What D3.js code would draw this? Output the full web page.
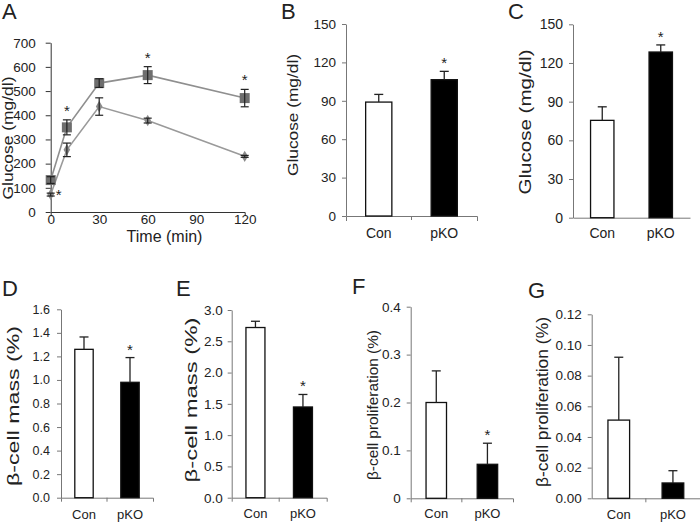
<!DOCTYPE html>
<meta charset="utf-8">
<head>
    <title>Glucose and beta-cell panels</title>
</head>
<style>
body { margin: 0; background: #fff; }
svg { display: block; }
text { font-family: 'Liberation Sans', Arial, sans-serif; fill: #222; }
.axis path, .axis line { stroke: #777; }
.axisA path, .axisA line { stroke: #333; }
.axis text, .axisA text { fill: #222; }
</style>
<body>
<svg width="700" height="525"></svg>
<script src="https://d3js.org/d3.v7.min.js"></script>
<script>

// panel A: glucose tolerance curve
const times = [0, 10, 30, 60, 120];
const pkoCurve = [132, 350, 533, 566, 471];
const pkoCurveErr = [14, 31, 18, 35, 36];
const conCurve = [72, 257, 436, 378, 230];
const conCurveErr = [6, 28, 36, 10, 4];
const curveTicksY = [0, 100, 200, 300, 400, 500, 600, 700];
const curveTicksX = [0, 30, 60, 90, 120];

// bar panels B-G
const groups = ['Con', 'pKO'];
const glucoseB = [89, 106.5];
const glucoseBErr = [6, 6.5];
const glucoseC = [75.5, 128.5];
const glucoseCErr = [10.5, 5.5];
const massD = [1.26, 0.98];
const massDErr = [0.105, 0.21];
const massE = [2.72, 1.45];
const massEErr = [0.10, 0.20];
const prolifF = [0.200, 0.071];
const prolifFErr = [0.066, 0.044];
const prolifG = [0.051, 0.010];
const prolifGErr = [0.041, 0.008];
const sigB = [false, true], sigC = [false, true], sigD = [false, true];
const sigE = [false, true], sigF = [false, true], sigG = [false, false];
const ticksGlucose = [0, 30, 60, 90, 120, 150];
const ticksD = [0, 0.2, 0.4, 0.6, 0.8, 1.0, 1.2, 1.4, 1.6];
const ticksE = [0, 0.5, 1.0, 1.5, 2.0, 2.5, 3.0];
const ticksF = [0, 0.1, 0.2, 0.3, 0.4];
const ticksG = [0, 0.02, 0.04, 0.06, 0.08, 0.10, 0.12];

const svg = d3.select('svg');

function panelLetter(t, x, y) {
    svg.append('text')
        .attr('x', x).attr('y', y)
        .style('font-size', '22px')
        .text(t);
}

function yLabel(t, cx, cy, len, size) {
    svg.append('text')
        .attr('transform', `translate(${cx},${cy}) rotate(-90)`)
        .attr('text-anchor', 'middle')
        .attr('dy', '0.35em')
        .attr('textLength', len)
        .attr('lengthAdjust', 'spacingAndGlyphs')
        .style('font-size', size + 'px')
        .text(t);
}

function star(x, y) {
    svg.append('text')
        .attr('x', x).attr('y', y)
        .attr('text-anchor', 'middle')
        .style('font-size', '15px')
        .text('*');
}

// ---------- A ----------
const xA = d3.scaleLinear().domain([0, 120]).range([50.7, 244.7]);
const yA = d3.scaleLinear().domain([0, 700]).range([212, 42.7]);

svg.append('g').attr('class', 'axisA')
    .attr('transform', 'translate(50.7,0)')
    .call(d3.axisLeft(yA).tickValues(curveTicksY).tickSizeInner(5).tickSizeOuter(0).tickPadding(10))
    .selectAll('text').style('font-size', '13.5px');

svg.append('g').attr('class', 'axisA')
    .attr('transform', 'translate(0,212)')
    .call(d3.axisBottom(xA).tickValues(curveTicksX).tickSizeInner(0).tickSizeOuter(4).tickPadding(2))
    .selectAll('text').style('font-size', '13.5px');

const curveLine = d3.line().x((d, i) => xA(times[i])).y(d => yA(d));

svg.append('path').datum(pkoCurve)
    .attr('d', curveLine).attr('fill', 'none')
    .attr('stroke', '#8f8f8f').attr('stroke-width', 1.6);
svg.append('path').datum(conCurve)
    .attr('d', curveLine).attr('fill', 'none')
    .attr('stroke', '#9a9a9a').attr('stroke-width', 1.6);

svg.append('g').selectAll('path')
    .data(conCurve).join('path')
    .attr('transform', (d, i) => `translate(${xA(times[i])},${yA(d)})`)
    .attr('d', d3.symbol(d3.symbolDiamond, 38))
    .attr('fill', '#8a8a8a');

svg.append('g').selectAll('rect')
    .data(pkoCurve).join('rect')
    .attr('x', (d, i) => xA(times[i]) - 5)
    .attr('y', d => yA(d) - 5)
    .attr('width', 10).attr('height', 10)
    .attr('fill', '#6e6e6e');

function curveErr(vals, errs) {
    const g = svg.append('g').attr('stroke', '#222').attr('stroke-width', 1.2);
    vals.forEach((v, i) => {
        const x = xA(times[i]);
        g.append('line').attr('x1', x).attr('x2', x).attr('y1', yA(v - errs[i])).attr('y2', yA(v + errs[i]));
        g.append('line').attr('x1', x - 4).attr('x2', x + 4).attr('y1', yA(v - errs[i])).attr('y2', yA(v - errs[i]));
        g.append('line').attr('x1', x - 4).attr('x2', x + 4).attr('y1', yA(v + errs[i])).attr('y2', yA(v + errs[i]));
    });
}
curveErr(pkoCurve, pkoCurveErr);
curveErr(conCurve, conCurveErr);

// significance marks on the curve
star(xA(times[0]) + 8, yA(conCurve[0]) + 5);
[1, 3, 4].forEach(i => star(xA(times[i]), yA(pkoCurve[i] + pkoCurveErr[i]) - 4));

yLabel('Glucose (mg/dl)', 8, 138, 123, 15);
svg.append('text')
    .attr('x', 164.5).attr('y', 242)
    .attr('text-anchor', 'middle')
    .style('font-size', '16px')
    .text('Time (min)');
panelLetter('A', 2, 19);

// ---------- bar panels ----------
function barPanel(c, vals, errs, sig) {
    const x = d3.scaleBand().domain(groups).range([c.x0, c.x1]);
    const y = d3.scaleLinear().domain([0, c.max]).range([c.y0, c.yTop]);

    svg.append('g').attr('class', 'axis')
        .attr('transform', `translate(${c.x0},0)`)
        .call(d3.axisLeft(y).tickValues(c.ticks).tickFormat(c.fmt)
            .tickSizeInner(4).tickSizeOuter(0).tickPadding(c.pad))
        .selectAll('text').style('font-size', c.tickFont + 'px');

    svg.append('g').attr('class', 'axis')
        .attr('transform', `translate(0,${c.y0})`)
        .call(d3.axisBottom(x).tickValues([]).tickSizeOuter(c.outer));

    if (c.mid) {
        svg.append('line')
            .attr('x1', c.x0 + x.step()).attr('x2', c.x0 + x.step())
            .attr('y1', c.y0).attr('y2', c.y0 + 4)
            .attr('stroke', '#777');
    }

    const bw = x.bandwidth() * 0.4;
    const cx = g => x(g) + x.bandwidth() / 2;

    svg.append('g').selectAll('rect')
        .data(groups).join('rect')
        .attr('x', g => cx(g) - bw / 2)
        .attr('y', (g, i) => y(vals[i]))
        .attr('width', bw)
        .attr('height', (g, i) => c.y0 - y(vals[i]))
        .attr('fill', (g, i) => i === 0 ? '#fff' : '#000')
        .attr('stroke', '#111').attr('stroke-width', 1.3);

    const eg = svg.append('g').attr('stroke', '#222').attr('stroke-width', 1.3);
    groups.forEach((g, i) => {
        const top = y(vals[i] + errs[i]);
        eg.append('line').attr('x1', cx(g)).attr('x2', cx(g)).attr('y1', y(vals[i])).attr('y2', top);
        eg.append('line').attr('x1', cx(g) - 4.5).attr('x2', cx(g) + 4.5).attr('y1', top).attr('y2', top);
        if (sig[i]) star(cx(g), top - 3);
    });

    svg.append('g').selectAll('text')
        .data(groups).join('text')
        .attr('x', g => cx(g))
        .attr('y', c.catY)
        .attr('text-anchor', 'middle')
        .style('font-size', c.catFont + 'px')
        .text(g => g);

    yLabel(c.label, c.lx, c.ly, c.llen, c.lsize);
    panelLetter(c.letter, c.px, c.py);
}

const f0 = d => d3.format('d')(d);
const f1 = d => d.toFixed(1);
const fF = d => d === 0 ? '0' : d.toFixed(1);
const f2 = d => d.toFixed(2);

barPanel({ x0: 346, x1: 477, y0: 216, yTop: 24, max: 150, ticks: ticksGlucose, fmt: f0, pad: 6,
    tickFont: 13.5, outer: 5, mid: true, catY: 238, catFont: 14,
    label: 'Glucose (mg/dl)', lx: 293, ly: 115, llen: 122, lsize: 15,
    letter: 'B', px: 281, py: 19 }, glucoseB, glucoseBErr, sigB);

barPanel({ x0: 573, x1: 690, y0: 217.7, yTop: 24.3, max: 150, ticks: ticksGlucose, fmt: f0, pad: 6,
    tickFont: 14, outer: 0, mid: false, catY: 238, catFont: 14,
    label: 'Glucose (mg/dl)', lx: 525, ly: 122, llen: 145, lsize: 16,
    letter: 'C', px: 508, py: 19 }, glucoseC, glucoseCErr, sigC);

barPanel({ x0: 61, x1: 153, y0: 497.7, yTop: 309.3, max: 1.6, ticks: ticksD, fmt: f1, pad: 7,
    tickFont: 12.5, outer: 4, mid: true, catY: 519, catFont: 13,
    label: 'β-cell mass (%)', lx: 13, ly: 406, llen: 160, lsize: 17,
    letter: 'D', px: 2, py: 296 }, massD, massDErr, sigD);

barPanel({ x0: 231.7, x1: 326.7, y0: 497.7, yTop: 310, max: 3.0, ticks: ticksE, fmt: f1, pad: 5,
    tickFont: 13.5, outer: 4, mid: true, catY: 518, catFont: 13,
    label: 'β-cell mass (%)', lx: 191, ly: 400, llen: 165, lsize: 17,
    letter: 'E', px: 176, py: 296 }, massE, massEErr, sigE);

barPanel({ x0: 410.7, x1: 513, y0: 498.3, yTop: 306.7, max: 0.4, ticks: ticksF, fmt: fF, pad: 6,
    tickFont: 13.5, outer: 4, mid: true, catY: 518, catFont: 13,
    label: 'β-cell proliferation (%)', lx: 372.5, ly: 405, llen: 150, lsize: 15,
    letter: 'F', px: 352, py: 294 }, prolifF, prolifFErr, sigF);

barPanel({ x0: 591.7, x1: 700, y0: 498.3, yTop: 314.3, max: 0.12, ticks: ticksG, fmt: f2, pad: 6,
    tickFont: 13.5, outer: 0, mid: true, catY: 519, catFont: 13,
    label: 'β-cell proliferation (%)', lx: 542.5, ly: 402, llen: 170, lsize: 16,
    letter: 'G', px: 528, py: 298 }, prolifG, prolifGErr, sigG);

</script>
</body>
